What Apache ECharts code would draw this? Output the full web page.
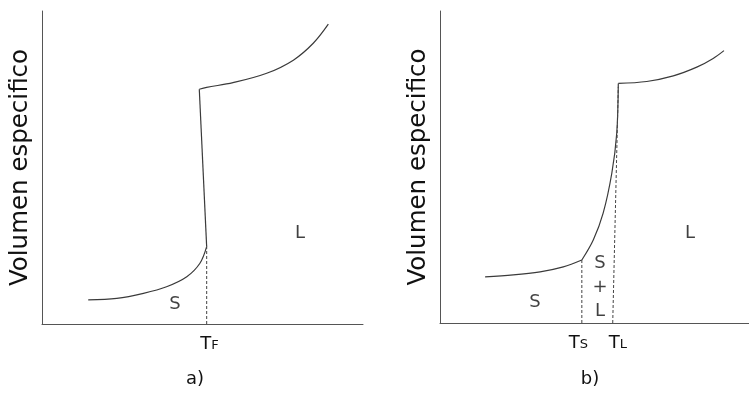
<!DOCTYPE html>
<html><head><meta charset="utf-8">
<script src="https://cdn.jsdelivr.net/npm/echarts@6/dist/echarts.min.js"></script>
<style>html,body{margin:0;padding:0;background:#fff}#c{width:749px;height:415px}</style>
</head><body><div id="c"></div>
<script>
// Panel a) pure substance
const aSolid = [[14.4,7.7],[23.3,8.2],[31.6,9.8],[38.8,11.9],[45.1,15.1],[49.2,19.4],[51.3,24.7]];
const aJump = [[51.3,24.7],[49.0,75.0]];
const aLiquid = [[49.0,75.0],[51.3,75.6],[59.5,77.1],[70.0,80.1],[78.3,84.3],[84.5,89.7],[89.2,95.8]];
const aTF = [[51.3,0],[51.3,24.7]];
const aTicks = [52.2];
const aTickLabels = ['{t|T}{s|F}'];
const aRegions = [[41.4,6.4,'S'],[80.4,29.1,'L']];
// Panel b) alloy
const bSolid = [[14.6,14.8],[23.7,15.4],[32.4,16.4],[39.9,18.0],[45.9,20.2]];
const bMushy = [[45.9,20.2],[49.6,26.6],[52.8,35.2],[55.6,48.0],[57.2,60.8],[57.7,76.8]];
const bLiquid = [[57.7,76.8],[66.9,77.4],[75.5,79.2],[83.1,82.0],[88.4,84.8],[91.9,87.3]];
const bTS = [[45.9,0],[45.9,20.2]];
const bTL = [[55.9,0],[57.7,75.7]];
const bTicks = [44.8,57.6];
const bTickLabels = ['{t|T}{s|S}','{t|T}{s|L}'];
const bRegions = [[30.7,6.6,'S'],[51.8,11.5,'S\n+\nL'],[80.9,28.8,'L']];
const yName = 'Volumen especifico';
const captions = ['a)','b)'];

const FONT = 'DejaVu Sans';
const lineCol = '#3a3a3a';
const axisCol = '#555';

function xAx(idx, ticks, labels){
  return {type:'value', gridIndex:idx, min:0, max:100, splitLine:{show:false},
    axisLine:{lineStyle:{color:axisCol,width:1}}, axisTick:{show:false},
    axisLabel:{customValues:ticks, margin:11, formatter:(v)=>{const i=ticks.indexOf(v);return i>=0?labels[i]:'';},
      rich:{t:{fontFamily:FONT,fontSize:18,color:'#111'},s:{fontFamily:FONT,fontSize:13,color:'#111',padding:[3,0,0,0]}}}};
}
function yAx(idx){
  return {type:'value', gridIndex:idx, min:0, max:100, splitLine:{show:false},
    axisLine:{show:true,lineStyle:{color:axisCol,width:1}}, axisTick:{show:false}, axisLabel:{show:false},
    name:yName, nameLocation:'middle', nameRotate:90, nameGap:9,
    nameTextStyle:{fontFamily:FONT,fontSize:24.5,color:'#111'}};
}
function curve(idx,data,smooth){
  return {type:'line', xAxisIndex:idx, yAxisIndex:idx, data, smooth:smooth?0.35:false,
    symbol:'none', lineStyle:{color:lineCol,width:1.2}, silent:true};
}
function dashed(idx,data){
  return {type:'line', xAxisIndex:idx, yAxisIndex:idx, data, symbol:'none',
    lineStyle:{color:'#444',width:1,type:[3,2]}, silent:true};
}
function regions(idx,data){
  return {type:'scatter', xAxisIndex:idx, yAxisIndex:idx, symbolSize:0, silent:true,
    data:data.map(d=>({value:[d[0],d[1]], name:d[2]})),
    label:{show:true, position:'inside', formatter:p=>p.name, fontFamily:FONT, fontSize:18, lineHeight:24, color:'#111'}};
}

const chart = echarts.init(document.getElementById('c'), null, {renderer:'canvas'});
chart.setOption({
  animation:false,
  backgroundColor:'#fff',
  grid:[{left:42,top:11,width:321,height:313},{left:440,top:11,width:309,height:312}],
  xAxis:[xAx(0,aTicks,aTickLabels), xAx(1,bTicks,bTickLabels)],
  yAxis:[yAx(0), yAx(1)],
  series:[
    curve(0,aSolid,true), curve(0,aJump,false), curve(0,aLiquid,true), dashed(0,aTF), regions(0,aRegions),
    curve(1,bSolid,true), curve(1,bMushy,true), curve(1,bLiquid,true), dashed(1,bTS), dashed(1,bTL), regions(1,bRegions)
  ],
  graphic:[
    {type:'text', x:195, y:379, style:{text:captions[0], fontFamily:FONT, fontSize:18, fill:'#111', align:'center', verticalAlign:'middle'}},
    {type:'text', x:590, y:379, style:{text:captions[1], fontFamily:FONT, fontSize:18, fill:'#111', align:'center', verticalAlign:'middle'}}
  ]
});
</script></body></html>
